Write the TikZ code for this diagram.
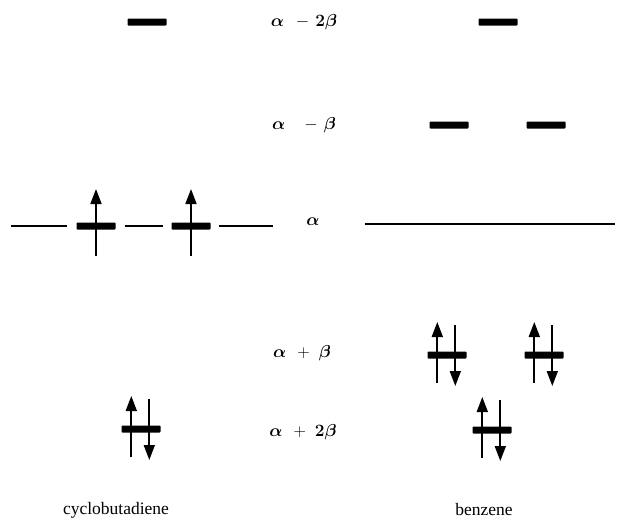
\documentclass[tikz,border=0pt]{standalone}
\usepackage{amsmath,bm}
\usepackage{fontspec}
\setmainfont{Liberation Serif}
\usepackage{tikz}
\usetikzlibrary{arrows.meta,calc}
\tikzset{
  mobar/.style={fill=black, draw=none, rounded corners=0.8pt, inner sep=0pt, minimum width=39pt, minimum height=7pt},
  mothin/.style={line width=1.6pt},
  moline/.style={line width=1.3pt},
  moelec/.style={line width=1.7pt, -{Triangle[length=15pt, width=11pt]}},
  molabel/.style={font=\fontsize{16}{19}\selectfont, anchor=center},
  moname/.style={font=\fontsize{17.5}{20}\selectfont, anchor=center}
}
% electron pair on a bar, single electron on a bar
\newcommand{\elpair}[1]{%
  \draw[moelec] ($(#1.west)+(10,28)$) -- ($(#1.west)+(10,-33)$);
  \draw[moelec] ($(#1.west)+(28,-30)$) -- ($(#1.west)+(28,31)$);}
\newcommand{\elsingle}[1]{%
  \draw[moelec] ($(#1.center)+(0,30)$) -- ($(#1.center)+(0,-37)$);}

\begin{document}
\begin{tikzpicture}[x=1pt, y=-1pt]
\useasboundingbox (0,0) rectangle (625,530);

% energy labels
\node[molabel] (lab2m) at (304,22) {$\bm{\alpha}\hspace{12pt}{-}\hspace{6pt}\bm{2\beta}$};
\node[molabel] (lab1m) at (304,125) {$\bm{\alpha}\hspace{19pt}{-}\hspace{6pt}\bm{\beta}$};
\node[molabel] (lab0) at (313,222) {$\bm{\alpha}$};
\node[molabel] (lab1p) at (302,353) {$\bm{\alpha}\hspace{11pt}{+}\hspace{9pt}\bm{\beta}$};
\node[molabel] (lab2p) at (303,432) {$\bm{\alpha}\hspace{11pt}{+}\hspace{9pt}\bm{2\beta}$};

% cyclobutadiene
\node[mobar] (cbtop) at (147,22) {};
\node[mobar] (cbnb1) at (96,226) {};
\node[mobar] (cbnb2) at (191,226) {};
\node[mobar] (cbbot) at (141,429) {};
\coordinate (cbstart) at (11,226);
\coordinate (cbend) at (273,226);
\draw[mothin] (cbstart) -- ([xshift=-9pt]cbnb1.west);
\draw[mothin] ([xshift=9pt]cbnb1.east) -- ([xshift=-8pt]cbnb2.west);
\draw[mothin] ([xshift=8pt]cbnb2.east) -- (cbend);
\elsingle{cbnb1}
\elsingle{cbnb2}
\elpair{cbbot}

% benzene
\node[mobar] (bztop) at (498,22) {};
\node[mobar] (bzab1) at (449,125) {};
\node[mobar] (bzab2) at (546,125) {};
\node[mobar] (bzb1) at (447,355) {};
\node[mobar] (bzb2) at (544,355) {};
\node[mobar] (bzbot) at (492,430) {};
\coordinate (bzstart) at (365,224);
\coordinate (bzend) at (615,224);
\draw[moline] (bzstart) -- (bzend);
\elpair{bzb1}
\elpair{bzb2}
\elpair{bzbot}

% molecule names
\node[moname] (cbname) at (116,510) {cyclobutadiene};
\node[moname] (bzname) at (484,510) {benzene};
\end{tikzpicture}
\end{document}
